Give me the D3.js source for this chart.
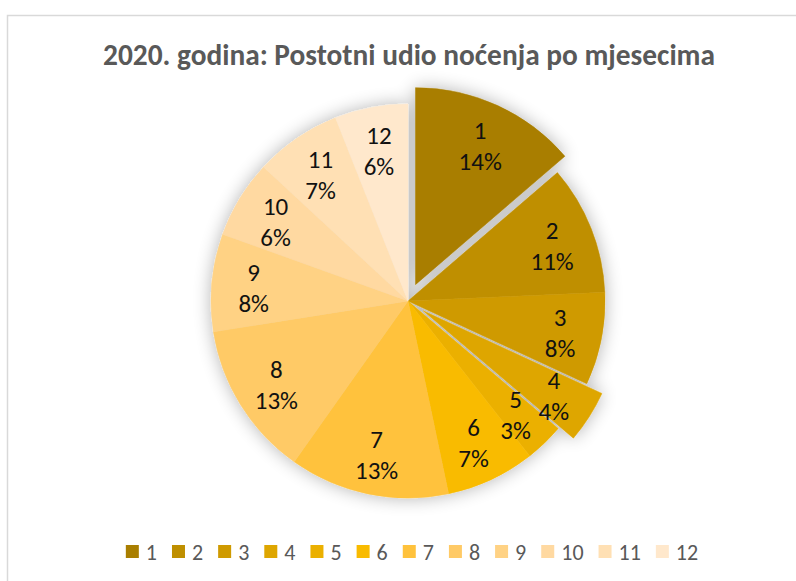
<!DOCTYPE html>
<html>
<head>
<meta charset="utf-8">
<script src="https://cdn.jsdelivr.net/npm/d3@7"></script>
<style>
  html, body { margin: 0; padding: 0; background: #fff; }
  svg { display: block; }
</style>
</head>
<body>
<div id="chart"></div>
<script>
// month labels and their share of overnight stays
const months = ["1", "2", "3", "4", "5", "6", "7", "8", "9", "10", "11", "12"];
const shares = [13.7, 10.6, 7.6, 4.3, 3.2, 7.3, 13.1, 12.7, 8.0, 6.4, 7.1, 6.0];
const colors = ["#a97e00", "#bf8f00", "#cf9a00", "#dea600", "#ebb000", "#f9bb00",
                "#ffc23c", "#ffca66", "#ffd284", "#ffd9a1", "#ffe0b4", "#ffe8cc"];
const exploded = ["1", "4"];
const title = "2020. godina: Postotni udio noćenja po mjesecima";

const W = 796, H = 581;
const cx = 408, cy = 301, R = 197;
const FONT = "Carlito, 'Open Sans', sans-serif";

const svg = d3.select("#chart").append("svg").attr("width", W).attr("height", H);

// chart frame (only top and left edges fall inside the picture)
svg.append("path")
  .attr("d", `M7.5,${H} V15.5 H${W}`)
  .attr("fill", "none").attr("stroke", "#d9d9d9").attr("stroke-width", 1.5);

// title, fitted to the width it takes in the original
const t = svg.append("text")
  .attr("x", 409).attr("y", 65)
  .attr("text-anchor", "middle")
  .attr("font-family", FONT).attr("font-weight", "bold")
  .attr("font-size", 24).attr("fill", "#595959")
  .text(title);
const tw = t.node().getComputedTextLength();
t.attr("font-size", 24 * 612 / tw);

// soft glow behind the pie
const defs = svg.append("defs");
const f = defs.append("filter").attr("id", "glow")
  .attr("x", "-20%").attr("y", "-20%").attr("width", "140%").attr("height", "140%");
f.append("feGaussianBlur").attr("in", "SourceAlpha").attr("stdDeviation", 9).attr("result", "b");
f.append("feComponentTransfer").attr("in", "b").attr("result", "s")
  .append("feFuncA").attr("type", "linear").attr("slope", 0.3);
const m = f.append("feMerge");
m.append("feMergeNode").attr("in", "s");
m.append("feMergeNode").attr("in", "SourceGraphic");

const color = d3.scaleOrdinal().domain(months).range(colors);
const total = d3.sum(shares);
const pct = d3.format(".0%");

const pie = d3.pie().sort(null).value(d => d.v);
const arcs = pie(months.map((k, i) => ({ k, v: shares[i] })));
const arc = d3.arc().innerRadius(0).outerRadius(R);
const labelArc = d3.arc().innerRadius(155).outerRadius(155);

const shift = d => {
  if (!exploded.includes(d.data.k)) return [0, 0];
  const a = (d.startAngle + d.endAngle) / 2;
  return [18 * Math.sin(a), -18 * Math.cos(a)];
};

const g = svg.append("g").attr("transform", `translate(${cx},${cy})`);
const slices = g.append("g").attr("filter", "url(#glow)");
slices.selectAll("path").data(arcs).join("path")
  .attr("transform", d => `translate(${shift(d)})`)
  .attr("d", arc)
  .attr("fill", d => color(d.data.k))
  .attr("stroke", d => color(d.data.k)).attr("stroke-width", 0.5);

const labels = g.append("g").selectAll("text").data(arcs).join("text")
  .attr("transform", d => {
    const [x, y] = labelArc.centroid(d), [sx, sy] = shift(d);
    return `translate(${x + sx},${y + sy})`;
  })
  .attr("text-anchor", "middle")
  .attr("font-family", FONT).attr("font-size", 25).attr("fill", "#111");
labels.append("tspan").attr("x", 0).attr("y", -5).text(d => d.data.k);
labels.append("tspan").attr("x", 0).attr("y", 26).text(d => pct(d.data.v / total));

// legend, laid out from measured text widths and centred under the pie
const leg = svg.append("g");
const items = leg.selectAll("g").data(months).join("g");
items.append("rect").attr("width", 13).attr("height", 13).attr("y", 545)
  .attr("fill", d => color(d));
items.append("text").attr("x", 20).attr("y", 560)
  .attr("font-family", FONT).attr("font-size", 22).attr("fill", "#595959")
  .text(d => d);
let x = 0;
items.each(function () {
  d3.select(this).attr("transform", `translate(${x},0)`);
  x += 20 + d3.select(this).select("text").node().getComputedTextLength() + 15;
});
leg.attr("transform", `translate(${412 - (x - 15) / 2},0)`);
</script>
</body>
</html>
